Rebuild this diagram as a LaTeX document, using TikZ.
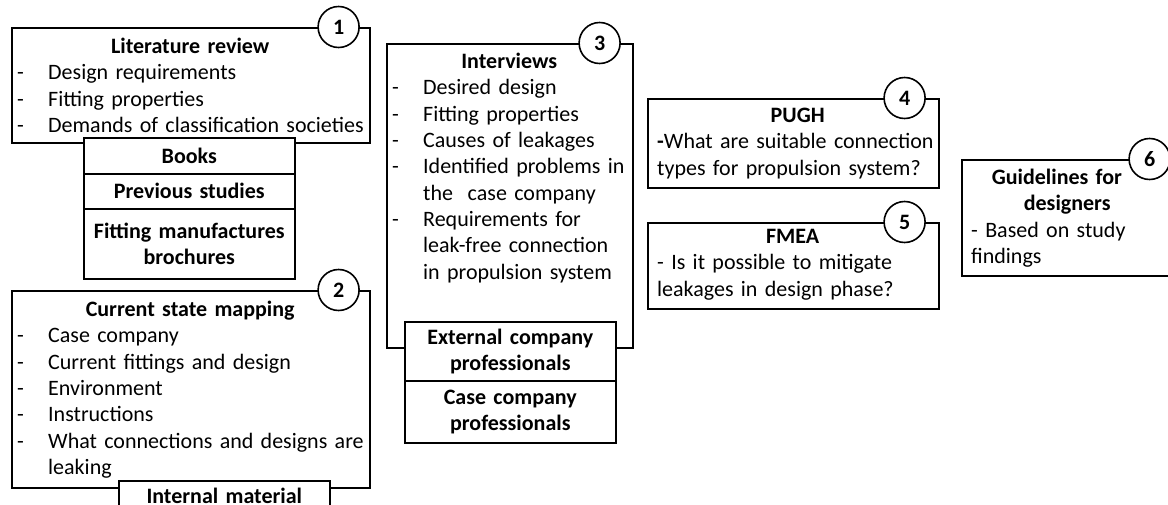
\documentclass[tikz,border=0pt]{standalone}
\usepackage{fontspec}
\setmainfont{Carlito}
\usetikzlibrary{positioning}
\newcommand{\diagfont}{\fontsize{22}{26.3}\selectfont}
\newcommand{\boxtitle}[1]{{\centering\bfseries #1\par}}
\newcommand{\dashitem}[1]{\par\noindent\hangindent=33pt\hbox to 33pt{\hspace{2pt}-\hfil}#1\par}
\tikzstyle{frame} = [draw, line width=1.6pt, inner sep=0pt, anchor=north west]
\tikzstyle{src} = [draw, fill=white, line width=1.6pt, minimum width=211pt,
    text width=205pt, align=center, inner sep=3pt, font=\diagfont\bfseries]
\tikzstyle{num} = [circle, draw, fill=white, line width=1.6pt, minimum size=41pt,
    inner sep=0pt, font=\diagfont\bfseries]
\tikzstyle{txt} = [anchor=north west, inner sep=0pt, align=left, font=\diagfont]

\begin{document}
\begin{tikzpicture}[x=1pt,y=-1pt]
  \useasboundingbox (0,0) rectangle (1168,504);

  % steps
  \node[frame, minimum width=358pt, minimum height=115pt] (lit)   at (11,27)  {};
  \node[frame, minimum width=358pt, minimum height=197pt] (csm)   at (11,290) {};
  \node[frame, minimum width=246pt, minimum height=304pt] (intv)  at (386,43) {};
  \node[frame, minimum width=291pt, minimum height=89pt]  (pugh)  at (647,98) {};
  \node[frame, minimum width=291pt, minimum height=86pt]  (fmea)  at (647,222) {};
  \node[frame, minimum width=212pt, minimum height=116pt] (guide) at (961,159) {};

  % sources
  \node[src, minimum height=36pt, anchor=north west] (books) at (83,137) {Books};
  \node[src, minimum height=35pt, below=-1.6pt of books] (prev) {Previous studies};
  \node[src, minimum height=70pt, below=-1.6pt of prev] (broch) {Fitting manufactures\\brochures};
  \node[src, minimum height=31pt, anchor=north west] (intmat) at (118,480) {Internal material};
  \node[src, minimum height=59pt, anchor=north west] (ext) at (404,321) {External company\\professionals};
  \node[src, minimum height=62pt, below=-1.6pt of ext] (casep) {Case company\\professionals};

  % numbers
  \node[num] (n1) at ([xshift=-32pt]lit.north east)   {1};
  \node[num] (n2) at ([xshift=-32pt]csm.north east)   {2};
  \node[num] (n3) at ([xshift=-34pt]intv.north east)  {3};
  \node[num] (n4) at ([xshift=-35pt]pugh.north east)  {4};
  \node[num] (n5) at ([xshift=-35pt]fmea.north east)  {5};
  \node[num] (n6) at ([xshift=-25pt]guide.north east) {6};

  % texts
  \node[txt, text width=350pt] (littxt) at ([xshift=4pt,yshift=-11pt]lit.north west)
    {\boxtitle{Literature review}
     \dashitem{Design requirements}
     \dashitem{Fitting properties}
     \dashitem{Demands of classification societies}};
  \node[txt, text width=350pt] (csmtxt) at ([xshift=4pt,yshift=-11pt]csm.north west)
    {\boxtitle{Current state mapping}
     \dashitem{Case company}
     \dashitem{Current fittings and design}
     \dashitem{Environment}
     \dashitem{Instructions}
     \dashitem{What connections and designs are\newline leaking}};
  \node[txt, text width=238pt] (intvtxt) at ([xshift=4pt,yshift=-10pt]intv.north west)
    {\boxtitle{Interviews}
     \dashitem{Desired design}
     \dashitem{Fitting properties}
     \dashitem{Causes of leakages}
     \dashitem{Identified problems in\newline the\ \ case company}
     \dashitem{Requirements for\newline leak-free connection\newline in propulsion system}};
  \node[txt, text width=281pt] (pughtxt) at ([xshift=10pt,yshift=-10pt]pugh.north west)
    {\boxtitle{PUGH}
     \textbf{-}What are suitable connection\newline types for propulsion system?};
  \node[txt, text width=271pt] (fmeatxt) at ([xshift=10pt,yshift=-7pt]fmea.north west)
    {\boxtitle{FMEA}
     - Is it possible to mitigate\newline leakages in design phase?};
  \node[txt, text width=192pt] (guidetxt) at ([xshift=10pt,yshift=-10pt]guide.north west)
    {\boxtitle{Guidelines for\newline designers}
     - Based on study\newline findings};
\end{tikzpicture}
\end{document}
